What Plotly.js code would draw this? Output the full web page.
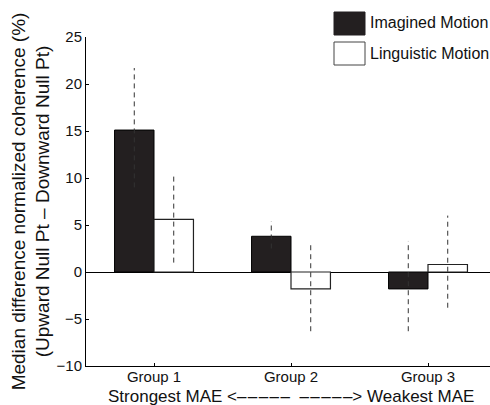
<!DOCTYPE html>
<html>
<head>
<meta charset="utf-8">
<script src="https://cdn.plot.ly/plotly-3.0.1.min.js"></script>
<style>html,body{margin:0;padding:0;background:#fff;}#chart{width:490px;height:405px;}</style>
</head>
<body>
<div id="chart"></div>
<script>
var groups = ['Group 1', 'Group 2', 'Group 3'];
var groupPos = [1, 2, 3];
var imagined = [15.1, 3.8, -1.8];
var imaginedHi = [21.7, 5.4, 3.3];
var imaginedLo = [9.0, 2.5, -6.3];
var linguistic = [5.6, -1.8, 0.8];
var linguisticHi = [10.3, 3.2, 6.0];
var linguisticLo = [1.0, -6.3, -3.8];

var W = 0.288;
function segs(xs, lo, hi, off) {
  var x = [], y = [];
  for (var i = 0; i < xs.length; i++) {
    x.push(xs[i] + off, xs[i] + off, null);
    y.push(lo[i], hi[i], null);
  }
  return {x: x, y: y};
}
var e1 = segs(groupPos, imaginedLo, imaginedHi, -W / 2);
var e2 = segs(groupPos, linguisticLo, linguisticHi, W / 2);

var font = 'Arial, "Liberation Sans", Helvetica, sans-serif';
var d = '\u2013\u200a';
var dashes = d + d + d + d + '\u2013';
var data = [
  {type: 'bar', name: 'Imagined Motion', x: groupPos, y: imagined, width: W, offset: -W,
   marker: {color: '#231f20', line: {color: '#000', width: 1}}, showlegend: false},
  {type: 'bar', name: 'Linguistic Motion', x: groupPos, y: linguistic, width: W, offset: 0,
   marker: {color: '#ffffff', line: {color: '#222', width: 1.2}}, showlegend: false},
  {type: 'scatter', mode: 'lines', x: e1.x, y: e1.y, connectgaps: false,
   line: {color: '#333', width: 1, dash: '5px,4px'}, showlegend: false, hoverinfo: 'skip'},
  {type: 'scatter', mode: 'lines', x: e2.x, y: e2.y, connectgaps: false,
   line: {color: '#333', width: 1, dash: '5px,4px'}, showlegend: false, hoverinfo: 'skip'}
];

var layout = {
  width: 490, height: 405,
  margin: {l: 86, r: 0, t: 37, b: 39},
  paper_bgcolor: '#fff', plot_bgcolor: '#fff',
  font: {family: font, color: '#111', size: 15},
  showlegend: false,
  xaxis: {
    range: [0.5036, 3.4526], tickvals: groupPos, ticktext: groups,
    showgrid: false, zeroline: false, showline: true, linecolor: '#000', linewidth: 1,
    ticks: 'inside', ticklen: 3, tickcolor: '#000', ticklabelstandoff: -3,
    tickfont: {size: 15}, fixedrange: true
  },
  yaxis: {
    range: [-10, 25], tickvals: [-10, -5, 0, 5, 10, 15, 20, 25],
    ticktext: ['\u221210', '\u22125', '0', '5', '10', '15', '20', '25'],
    showgrid: false, zeroline: true, zerolinecolor: '#000', zerolinewidth: 1,
    showline: true, linecolor: '#000', linewidth: 1,
    ticks: 'inside', ticklen: 3, tickcolor: '#000',
    tickfont: {size: 15}, fixedrange: true,
    title: {text: 'Median difference normalized coherence (%)<br>(Upward Null Pt \u2013 Downward Null Pt)', font: {size: 19}, standoff: 1}
  },
  shapes: [
    {type: 'rect', xref: 'paper', yref: 'paper', x0: (334-86)/404, x1: (365-86)/404,
     y0: (366-35)/329, y1: (366-12)/329, fillcolor: '#231f20', line: {color: '#231f20', width: 1}},
    {type: 'rect', xref: 'paper', yref: 'paper', x0: (334-86)/404, x1: (365-86)/404,
     y0: (366-65)/329, y1: (366-42)/329, fillcolor: '#fff', line: {color: '#444', width: 1}}
  ],
  annotations: [
    {xref: 'paper', yref: 'paper', x: (368-86)/404, y: (366-23)/329, xanchor: 'left', yanchor: 'middle',
     text: 'Imagined Motion', showarrow: false, font: {size: 16}},
    {xref: 'paper', yref: 'paper', x: (368-86)/404, y: (366-53)/329, xanchor: 'left', yanchor: 'middle',
     text: 'Linguistic Motion', showarrow: false, font: {size: 16}},
    {xref: 'paper', yref: 'paper', x: (291-86)/404, y: (366-396)/329, xanchor: 'center', yanchor: 'middle',
     text: 'Strongest MAE <' + dashes + '\u00a0\u00a0' + dashes + '> Weakest MAE',
     showarrow: false, font: {size: 17}}
  ]
};
Plotly.newPlot('chart', data, layout, {displayModeBar: false, staticPlot: true});
</script>
</body>
</html>
